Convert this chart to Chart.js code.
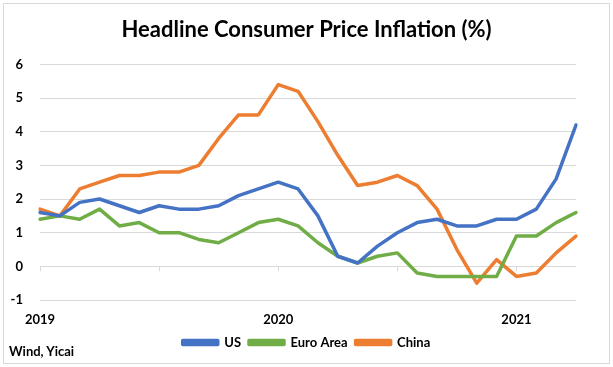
<!DOCTYPE html>
<html>
<head>
<meta charset="utf-8">
<script src="https://cdn.jsdelivr.net/npm/chart.js@4/dist/chart.umd.min.js"></script>
<style>
  html, body { margin: 0; padding: 0; background: #fff; }
  #wrap { position: relative; width: 613px; height: 367px; }
  #frame { position: absolute; left: 3px; top: 3px; width: 605px; height: 359px; border: 1px solid #d9d9d9; pointer-events: none; }
  #source { position: absolute; left: 9px; top: 343px; font: bold 13px Lato, sans-serif; color: #000; }
</style>
</head>
<body>
<div id="wrap">
  <canvas id="cpiChart" width="613" height="367"></canvas>
  <div id="frame"></div>
  <div id="source">Wind, Yicai</div>
</div>
<script>
// monthly, Jan 2019 - Apr 2021
const months = [
  "2019-01", "2019-02", "2019-03", "2019-04", "2019-05", "2019-06",
  "2019-07", "2019-08", "2019-09", "2019-10", "2019-11", "2019-12",
  "2020-01", "2020-02", "2020-03", "2020-04", "2020-05", "2020-06",
  "2020-07", "2020-08", "2020-09", "2020-10", "2020-11", "2020-12",
  "2021-01", "2021-02", "2021-03", "2021-04",
];
const usCpi = [1.6, 1.5, 1.9, 2.0, 1.8, 1.6, 1.8, 1.7, 1.7, 1.8, 2.1, 2.3,
  2.5, 2.3, 1.5, 0.3, 0.1, 0.6, 1.0, 1.3, 1.4, 1.2, 1.2, 1.4, 1.4, 1.7, 2.6, 4.2];
const euroCpi = [1.4, 1.5, 1.4, 1.7, 1.2, 1.3, 1.0, 1.0, 0.8, 0.7, 1.0, 1.3,
  1.4, 1.2, 0.7, 0.3, 0.1, 0.3, 0.4, -0.2, -0.3, -0.3, -0.3, -0.3, 0.9, 0.9, 1.3, 1.6];
const chinaCpi = [1.7, 1.5, 2.3, 2.5, 2.7, 2.7, 2.8, 2.8, 3.0, 3.8, 4.5, 4.5,
  5.4, 5.2, 4.3, 3.3, 2.4, 2.5, 2.7, 2.4, 1.7, 0.5, -0.5, 0.2, -0.3, -0.2, 0.4, 0.9];
const yTicks = [-1, 0, 1, 2, 3, 4, 5, 6];

const FONT = "Lato, 'Liberation Sans', sans-serif";

// small tick marks on the zero line every 6 months (Excel style)
const zeroTicks = {
  id: "zeroTicks",
  afterDatasetsDraw(chart) {
    const { ctx, scales } = chart;
    const y0 = scales.y.getPixelForValue(0);
    ctx.save();
    ctx.strokeStyle = "#d9d9d9";
    ctx.lineWidth = 1;
    for (let i = 0; i < months.length; i += 6) {
      const x = Math.round(scales.x.getPixelForValue(i)) + 0.5;
      ctx.beginPath();
      ctx.moveTo(x, y0);
      ctx.lineTo(x, y0 + 5);
      ctx.stroke();
    }
    ctx.restore();
  },
};

const line = (label, data, color) => ({
  label,
  data,
  borderColor: color,
  backgroundColor: color,
  borderWidth: 3.5,
  pointRadius: 0,
  tension: 0,
  borderJoinStyle: "round",
  borderCapStyle: "round",
});

new Chart(document.getElementById("cpiChart"), {
  type: "line",
  data: {
    labels: months,
    datasets: [
      line("US", usCpi, "#4472c4"),
      line("Euro Area", euroCpi, "#70ad47"),
      line("China", chinaCpi, "#ed7d31"),
    ],
  },
  options: {
    responsive: false,
    animation: false,
    layout: { padding: { left: 0, right: 0, top: 0, bottom: 8 } },
    plugins: {
      title: {
        display: true,
        text: "Headline Consumer Price Inflation (%)",
        color: "#000",
        font: { family: FONT, size: 22, weight: "bold" },
        padding: { top: 17, bottom: 21 },
      },
      legend: {
        position: "bottom",
        labels: {
          color: "#000",
          font: { family: FONT, size: 13, weight: "bold" },
          boxWidth: 35,
          boxHeight: 4,
          padding: 8,
        },
      },
      tooltip: { enabled: false },
    },
    scales: {
      x: {
        grid: { display: false, drawTicks: false },
        border: { display: false },
        ticks: {
          autoSkip: false,
          maxRotation: 0,
          padding: 12,
          color: "#000",
          font: { family: FONT, size: 13, weight: "bold" },
          callback: (v, i) => (i % 12 === 0 ? months[i].slice(0, 4) : ""),
        },
        afterFit: (s) => { s.height = 28; },
      },
      y: {
        min: -1,
        max: 6,
        afterBuildTicks: (s) => { s.ticks = yTicks.map((v) => ({ value: v })); },
        grid: { color: "#d9d9d9", drawTicks: false },
        border: { display: false },
        ticks: {
          padding: 17,
          color: "#000",
          font: { family: FONT, size: 13, weight: "bold" },
        },
        afterFit: (s) => { s.width = 40; },
      },
      // empty right-hand margin so title and legend centre on the full width
      yRight: {
        position: "right",
        grid: { display: false, drawTicks: false },
        border: { display: false },
        ticks: { display: false },
        afterFit: (s) => { s.width = 37; },
      },
    },
  },
  plugins: [zeroTicks],
});
</script>
</body>
</html>
